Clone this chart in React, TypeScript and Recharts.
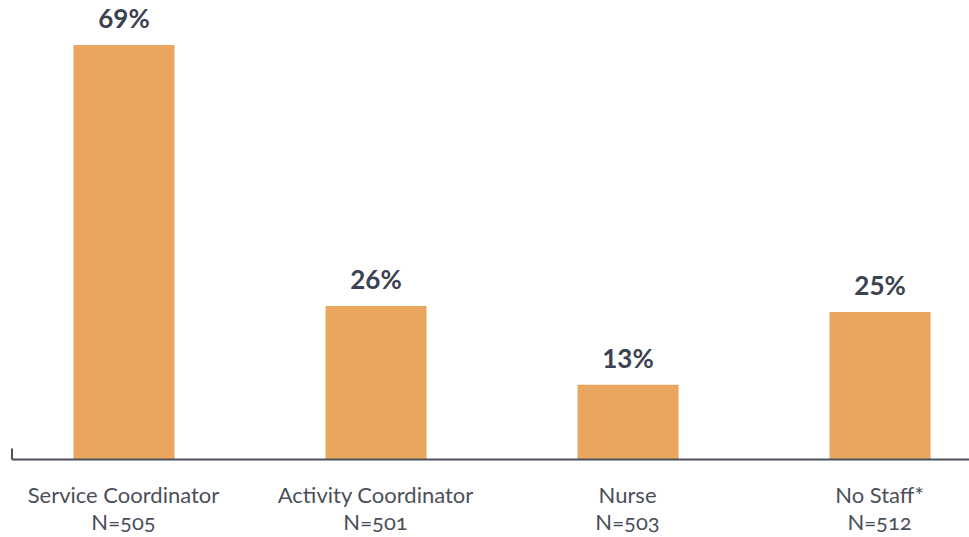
import { Bar, BarChart, LabelList, ReferenceLine, XAxis, YAxis } from "recharts";

const categories = ["Service Coordinator", "Activity Coordinator", "Nurse", "No Staff*"];
const sampleSizes = ["N=505", "N=501", "N=503", "N=512"];
const shares = [69, 26, 13, 25];

const data = categories.map((name, i) => ({
  idx: i,
  name,
  n: sampleSizes[i],
  share: shares[i],
}));

// x domain picked so the bars sit where they do in the original
const xDomain = [-0.4425, 3.355];
const yDomain = [0.7, 69];

const BAR_COLOR = "#EAA65E";
const AXIS_COLOR = "#4a505d";
const FONT = "Lato, 'Noto Sans', sans-serif";

function CategoryTick(props: any) {
  const { x, y, payload } = props;
  const row = data[payload.value];
  if (!row) return null;
  return (
    <g transform={`translate(${x},${y})`}>
      <text
        textAnchor="middle"
        fill="#4b4f59"
        fontFamily={FONT}
        fontSize={22}
        style={{ fontVariantNumeric: "oldstyle-nums" }}
      >
        <tspan x={0} dy={35}>
          {row.name}
        </tspan>
        <tspan x={0} dy={27}>
          {row.n}
        </tspan>
      </text>
    </g>
  );
}

export default function App() {
  return (
    <div style={{ position: "absolute", left: 0, top: 0, background: "#fff" }}>
      <BarChart
        width={969}
        height={537}
        data={data}
        margin={{ top: 45, right: 0, bottom: 0, left: 12 }}
      >
        <XAxis
          type="number"
          dataKey="idx"
          domain={xDomain}
          ticks={[0, 1, 2, 3]}
          allowDataOverflow
          interval={0}
          tickLine={false}
          axisLine={{ stroke: AXIS_COLOR, strokeWidth: 2 }}
          tick={<CategoryTick />}
          height={77.5}
        />
        <YAxis hide domain={yDomain} allowDataOverflow />
        <ReferenceLine
          segment={[
            { x: xDomain[0], y: yDomain[0] },
            { x: xDomain[0], y: yDomain[0] + 1.8 },
          ]}
          stroke={AXIS_COLOR}
          strokeWidth={2}
          ifOverflow="visible"
        />
        <Bar dataKey="share" fill={BAR_COLOR} barSize={101} isAnimationActive={false}>
          <LabelList
            dataKey="share"
            position="top"
            offset={17}
            formatter={(v: any) => `${v}%`}
            fill="#3b4252"
            fontFamily={FONT}
            fontSize={26}
            fontWeight={700}
          />
        </Bar>
      </BarChart>
    </div>
  );
}
